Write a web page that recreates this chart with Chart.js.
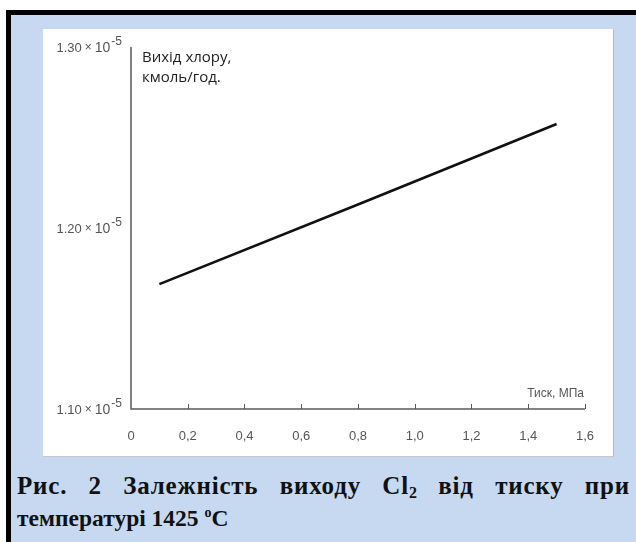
<!DOCTYPE html>
<html>
<head>
<meta charset="utf-8">
<script src="https://cdn.jsdelivr.net/npm/chart.js@4.4.1/dist/chart.umd.min.js"></script>
<style>
  html, body { margin: 0; padding: 0; background: #ffffff; width: 636px; height: 542px; overflow: hidden; }
  #panel { position: absolute; left: 6px; top: 10px; width: 630px; height: 532px; background: #c6d9f1;
           border-left: 5px solid #000; border-top: 5px solid #000; box-sizing: border-box; }
  #box { position: absolute; left: 43px; top: 29px; width: 571px; height: 428px; background: #fff;
         border-right: 1px solid #b8b8b8; border-bottom: 1px solid #c8c8c8; box-sizing: border-box; }
  #box canvas { display: block; }
  #caption { position: absolute; left: 17px; top: 469px; width: 612px; font-family: "Liberation Serif", "Times New Roman", serif;
             font-weight: bold; font-size: 23.5px; line-height: 33px; color: #111; }
  #caption .l1 { text-align: justify; text-align-last: justify; white-space: nowrap; font-size: 25px; letter-spacing: 0.8px; margin-right: -1px; }
  #caption .l2 { text-align: left; }
  #caption sub { font-size: 16px; vertical-align: -4px; line-height: 0; letter-spacing: 0; }
  #caption sup { font-size: 14px; vertical-align: 9px; line-height: 0; }
</style>
</head>
<body>
<div id="panel"></div>
<div id="box"><canvas id="c" width="571" height="428"></canvas></div>
<div id="caption"><div class="l1">Рис. 2 Залежність виходу Cl<sub>2</sub> від тиску при</div><div class="l2">температурі 1425 <sup>o</sup>C</div></div>
<script>
// Data
const pressure = [0.1, 0.8, 1.5];                        // MPa
const chlorineYield = [1.169e-5, 1.213e-5, 1.2575e-5];   // kmol/h
const xTicks = [0, 0.2, 0.4, 0.6, 0.8, 1.0, 1.2, 1.4, 1.6];
const xTickLabels = ['0', '0,2', '0,4', '0,6', '0,8', '1,0', '1,2', '1,4', '1,6'];
const yTicks = [1.10e-5, 1.20e-5, 1.30e-5];
const yTickMantissa = ['1.10', '1.20', '1.30'];
const yTickExponent = '-5';
const yTitle = ['Вихід хлору,', 'кмоль/год.'];
const xTitle = 'Тиск, МПа';

const axisColor = '#5a5a5a';
const labelColor = '#555555';
const sans = '"Liberation Sans", Arial, sans-serif';

const axesPlugin = {
  id: 'customAxes',
  afterDraw(chart) {
    const ctx = chart.ctx;
    const xs = chart.scales.x, ys = chart.scales.y;
    const left = xs.getPixelForValue(0), right = xs.getPixelForValue(1.6);
    const bottom = ys.getPixelForValue(1.10e-5), top = ys.getPixelForValue(1.30e-5);
    ctx.save();
    ctx.strokeStyle = axisColor;
    ctx.lineWidth = 1.5;
    ctx.beginPath();
    ctx.moveTo(left, top);
    ctx.lineTo(left, bottom);
    ctx.lineTo(right, bottom);
    ctx.stroke();
    ctx.lineWidth = 1;
    xTicks.forEach(v => {
      if (v === 0) return;
      const px = Math.round(xs.getPixelForValue(v)) + 0.5;
      ctx.beginPath();
      ctx.moveTo(px, bottom);
      ctx.lineTo(px, bottom - 5);
      ctx.stroke();
    });
    // y tick labels with superscript exponent
    ctx.fillStyle = labelColor;
    ctx.textBaseline = 'alphabetic';
    ctx.textAlign = 'left';
    const fMan = '13px ' + sans, fTen = '14px ' + sans, fTimes = '12px ' + sans, fExp = '12px ' + sans;
    yTicks.forEach((v, i) => {
      const py = ys.getPixelForValue(v);
      const base = py + 5;
      const rightEdge = left - 9;
      ctx.font = fExp; const expW = ctx.measureText(yTickExponent).width;
      ctx.font = fTen; const tenW = ctx.measureText('10').width;
      ctx.font = fTimes; const timesW = ctx.measureText('×').width;
      ctx.font = fMan; const manW = ctx.measureText(yTickMantissa[i]).width;
      let x = rightEdge - expW - 1 - tenW - 3 - timesW - 3 - manW;
      ctx.font = fMan; ctx.fillText(yTickMantissa[i], x, base); x += manW + 3;
      ctx.font = fTimes; ctx.fillText('×', x, base - 1); x += timesW + 3;
      ctx.font = fTen; ctx.fillText('10', x, base); x += tenW + 1;
      ctx.font = fExp; ctx.fillText(yTickExponent, x, base - 7);
    });
    // axis titles
    ctx.fillStyle = '#1e1e1e';
    ctx.font = '15px "Open Sans", sans-serif';
    ctx.textAlign = 'left';
    ctx.textBaseline = 'middle';
    ctx.fillText(yTitle[0], left + 11, top + 11);
    ctx.fillText(yTitle[1], left + 11, top + 31);
    ctx.fillStyle = labelColor;
    ctx.font = '12px ' + sans;
    ctx.textAlign = 'right';
    ctx.fillText(xTitle, right - 1, bottom - 15);
    ctx.restore();
  }
};

new Chart(document.getElementById('c'), {
  type: 'scatter',
  data: {
    datasets: [{
      data: pressure.map((p, i) => ({ x: p, y: chlorineYield[i] })),
      showLine: true,
      borderColor: '#111111',
      borderWidth: 2.6,
      pointRadius: 0,
      tension: 0,
      fill: false
    }]
  },
  options: {
    responsive: false,
    animation: false,
    events: [],
    layout: { padding: { left: 0, right: 27, top: 18, bottom: 0 } },
    plugins: { legend: { display: false }, tooltip: { enabled: false } },
    scales: {
      x: {
        type: 'linear',
        min: 0, max: 1.6,
        afterBuildTicks(scale) { scale.ticks = xTicks.map(v => ({ value: v })); },
        afterFit(scale) { scale.height = 48; },
        grid: { display: false, drawTicks: false },
        border: { display: false },
        ticks: {
          autoSkip: false, maxRotation: 0, padding: 20,
          color: labelColor,
          font: { family: sans, size: 13 },
          callback: (v) => { const i = xTicks.findIndex(t => Math.abs(t - v) < 1e-9); return i >= 0 ? xTickLabels[i] : ''; }
        }
      },
      y: {
        type: 'linear',
        min: 1.10e-5, max: 1.30e-5,
        afterBuildTicks(scale) { scale.ticks = yTicks.map(v => ({ value: v })); },
        afterFit(scale) { scale.width = 88; },
        grid: { display: false, drawTicks: false },
        border: { display: false },
        ticks: { display: false }
      }
    }
  },
  plugins: [axesPlugin]
});
</script>
</body>
</html>
